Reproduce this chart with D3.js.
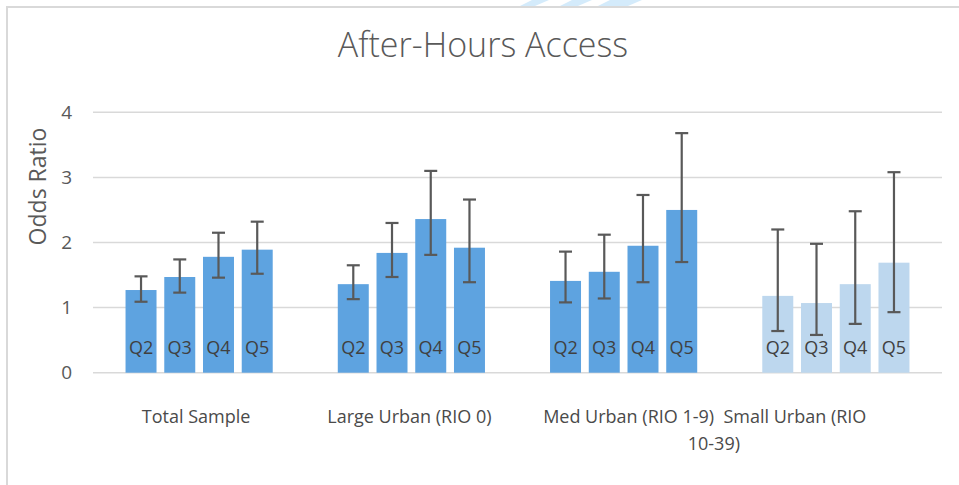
<!DOCTYPE html>
<html><head><meta charset="utf-8">
<script src="https://cdn.jsdelivr.net/npm/d3@7"></script>
<style>body{margin:0;background:#fff;} svg{display:block;}</style>
</head><body>
<svg id="chart" width="959" height="485"></svg>
<script>
const categories = ["Total Sample", "Large Urban (RIO 0)", "Med Urban (RIO 1-9)", "Small Urban (RIO 10-39)"];
const categoryLines = [["Total Sample"], ["Large Urban (RIO 0)"], ["Med Urban (RIO 1-9)"], ["Small Urban (RIO", "10-39)"]];
const quintiles = ["Q2", "Q3", "Q4", "Q5"];
const oddsRatio = [
  [1.27, 1.47, 1.78, 1.89],
  [1.36, 1.84, 2.36, 1.92],
  [1.41, 1.55, 1.95, 2.50],
  [1.18, 1.07, 1.36, 1.69]
];
const ciLower = [
  [1.09, 1.23, 1.46, 1.52],
  [1.13, 1.47, 1.81, 1.39],
  [1.08, 1.14, 1.39, 1.70],
  [0.64, 0.58, 0.75, 0.93]
];
const ciUpper = [
  [1.48, 1.74, 2.15, 2.32],
  [1.65, 2.30, 3.10, 2.66],
  [1.86, 2.12, 2.73, 3.68],
  [2.20, 1.98, 2.48, 3.08]
];
const yTicks = [0, 1, 2, 3, 4];

(function () {
const svg = d3.select("#chart");
const W = 959, H = 485;
const pLeft = 93, pRight = 942, pTop = 112.3, pBottom = 372.7;
const FONT = "Open Sans, sans-serif";

// frame
svg.append("path").attr("d", `M7,${H} L7,7 L${W},7`).attr("fill", "none")
  .attr("stroke", "#d9d9d9").attr("stroke-width", 2);

// watermark fragments
const wm = svg.append("g").attr("fill", "#d4ebfb");
[[520, 535], [560, 578], [598, 628]].forEach(([a, b]) => {
  wm.append("path").attr("d", `M${a},6 L${a + 12},0 L${b + 14},0 L${b},6 Z`);
});

const y = d3.scaleLinear().domain([0, 4]).range([pBottom, pTop]);
const x0 = d3.scaleBand().domain(d3.range(categories.length)).range([pLeft, pRight]).paddingInner(0).paddingOuter(0);
const x1 = d3.scaleBand().domain(quintiles).range([0, x0.bandwidth()]).paddingInner(0.2).paddingOuter(0.84);

// gridlines
svg.append("g").selectAll("line").data(yTicks).join("line")
  .attr("x1", pLeft).attr("x2", pRight)
  .attr("y1", d => y(d)).attr("y2", d => y(d))
  .attr("stroke", "#d9d9d9").attr("stroke-width", 1.5);

// y axis labels
const yAxis = d3.axisLeft(y).tickValues(yTicks).tickSize(0).tickPadding(21).tickFormat(d3.format("d"));
const ga = svg.append("g").attr("transform", `translate(${pLeft},0)`).call(yAxis);
ga.select(".domain").remove();
ga.selectAll("text").attr("font-family", FONT).attr("font-size", 19)
  .attr("fill", "#595959");

// bars
const groups = svg.append("g").selectAll("g").data(categories).join("g")
  .attr("transform", (d, i) => `translate(${x0(i)},0)`);

groups.each(function (c, i) {
  const g = d3.select(this);
  const fill = i === 3 ? "#bdd7ee" : "#5ea3e0";
  quintiles.forEach((q, j) => {
    const v = oddsRatio[i][j];
    const bx = x1(q), bw = x1.bandwidth(), cx = bx + bw / 2;
    g.append("rect").attr("x", bx).attr("y", y(v)).attr("width", bw).attr("height", y(0) - y(v)).attr("fill", fill);
    g.append("text").attr("x", cx).attr("y", y(0) - 19).attr("text-anchor", "middle")
      .attr("font-family", FONT).attr("font-size", 18).attr("fill", "#404040").text(q);
    const lo = y(ciLower[i][j]), hi = y(ciUpper[i][j]);
    const eb = g.append("g").attr("stroke", "#595959").attr("stroke-width", 2.2);
    eb.append("line").attr("x1", cx).attr("x2", cx).attr("y1", lo).attr("y2", hi);
    eb.append("line").attr("x1", cx - 6.5).attr("x2", cx + 6.5).attr("y1", lo).attr("y2", lo);
    eb.append("line").attr("x1", cx - 6.5).attr("x2", cx + 6.5).attr("y1", hi).attr("y2", hi);
  });
});

// category labels (Excel-style overflow offsets)
const labelDx = [[-3], [-2], [5], [-41, -122]];
categoryLines.forEach((lines, i) => {
  lines.forEach((t, k) => {
    svg.append("text").attr("x", x0(i) + x0.bandwidth() / 2 + labelDx[i][k]).attr("y", 423 + k * 27)
      .attr("text-anchor", "middle").attr("font-family", FONT).attr("font-size", 18)
      .attr("fill", "#4a4a4a").text(t);
  });
});

// axis title
svg.append("text").attr("transform", `translate(46,${(pTop + pBottom) / 2 - 56}) rotate(-90)`)
  .attr("text-anchor", "middle").attr("font-family", FONT).attr("font-size", 23)
  .attr("fill", "#595959").text("Odds Ratio");

// chart title
svg.append("text").attr("x", 483).attr("y", 57).attr("text-anchor", "middle")
  .attr("font-family", FONT).attr("font-weight", 300).attr("font-size", 34)
  .attr("fill", "#595959").text("After-Hours Access");
})();
</script>
</body></html>
